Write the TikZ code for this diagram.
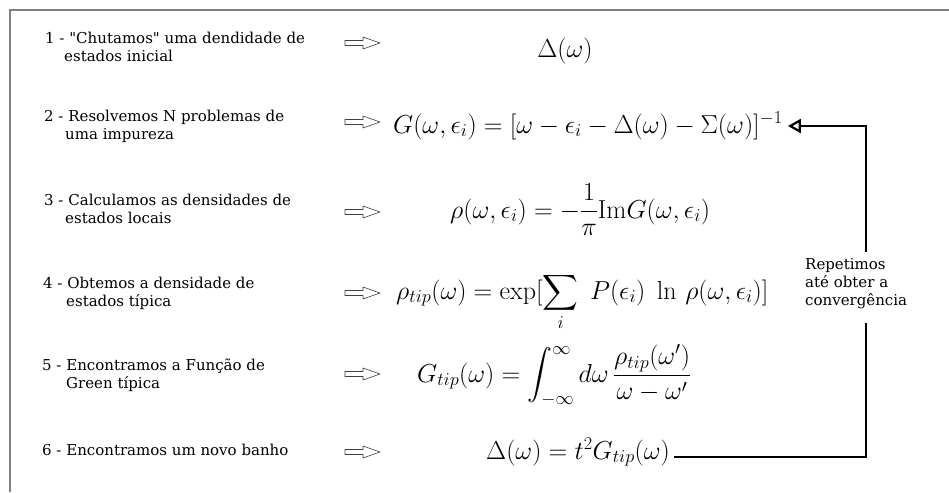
\RequirePackage{fix-cm}
\documentclass[tikz,border=0pt]{standalone}
\usepackage[no-math]{fontspec}
\setmainfont{DejaVu Serif}[Ligatures=TeXOff]
\usepackage{amsmath}
\usetikzlibrary{arrows.meta,calc}
\begin{document}
\begin{tikzpicture}[x=1pt,y=-1pt,
  lbl/.style={anchor=west, inner sep=0pt, align=left, font=\fontsize{15}{18}\selectfont},
  eqn/.style={anchor=base west, inner sep=0pt, font=\fontsize{26}{31}\selectfont},
  rep/.style={anchor=north west, inner sep=0pt, align=left, font=\fontsize{15}{18}\selectfont},
  harrow/.style={draw=black!75, line width=0.6pt, fill=white, line join=miter},
  frame/.style={draw=black!50, line width=1.5pt},
  fb/.style={draw=black, line width=2.2pt}]
\useasboundingbox (0,0) rectangle (949,492);
\draw[frame] (10,492) -- (10,10) -- (949,10);
% left labels
\node[lbl] (t1) at (45,47) {1 - "Chutamos" uma dendidade de\\\hspace*{19pt}estados inicial};
\node[lbl] (t2) at (44,126) {2 - Resolvemos N problemas de\\\hspace*{21pt}uma impureza};
\node[lbl] (t3) at (44,209) {3 - Calculamos as densidades de\\\hspace*{21pt}estados locais};
\node[lbl] (t4) at (43,293) {4 - Obtemos a densidade de\\\hspace*{23pt}estados típica};
\node[lbl] (t5) at (42,375) {5 - Encontramos a Função de\\\hspace*{24pt}Green típica};
\node[lbl] (t6) at (42,450) {6 - Encontramos um novo banho};
% hollow arrows
\foreach \y in {43,122,212,293,374,452}
  \draw[harrow] (345,\y-2.5) -- (363,\y-2.5) -- (363,\y-6) -- (380,\y) -- (363,\y+6) -- (363,\y+2.5) -- (345,\y+2.5) -- cycle;
% formulas
\node[eqn, anchor=base] (f1) at (565,58) {$\Delta(\omega)$};
\node[eqn] (f2) at (393,133) {$G(\omega,\epsilon_i)=[\omega-\epsilon_i-\Delta(\omega)-\Sigma(\omega)]^{-1}$};
\node[eqn] (f3) at (450,218) {$\displaystyle\rho(\omega,\epsilon_i)=-\frac{1}{\pi}\mathrm{Im}G(\omega,\epsilon_i)$};
\node[eqn] (f4) at (396,299) {$\displaystyle\rho_{tip}(\omega)=\exp[\sum_i\;P(\epsilon_i)\;\ln\,\rho(\omega,\epsilon_i)]$};
\node[eqn] (f5) at (417,382) {$\displaystyle G_{tip}(\omega)=\int_{-\infty}^{\infty}d\omega\,\frac{\rho_{tip}(\omega')}{\omega-\omega'}$};
\node[eqn] (f6) at (486,459) {$\Delta(\omega)=t^2G_{tip}(\omega)$};
% feedback loop
\node[rep] (rep) at (805,258) {Repetimos\\até obter a\\convergência};
\coordinate (vx) at (866,0);
\draw[fb] ($(f6.base east)+(4,-2)$) -| ($(vx |- rep.south)+(0,14)$);
\draw[fb, -{Triangle[open,length=13pt,width=14pt,line width=2.2pt]}] ($(vx |- rep.north)+(0,-6)$) |- ($(f2.base east)+(5,-7)$);
\end{tikzpicture}
\end{document}
